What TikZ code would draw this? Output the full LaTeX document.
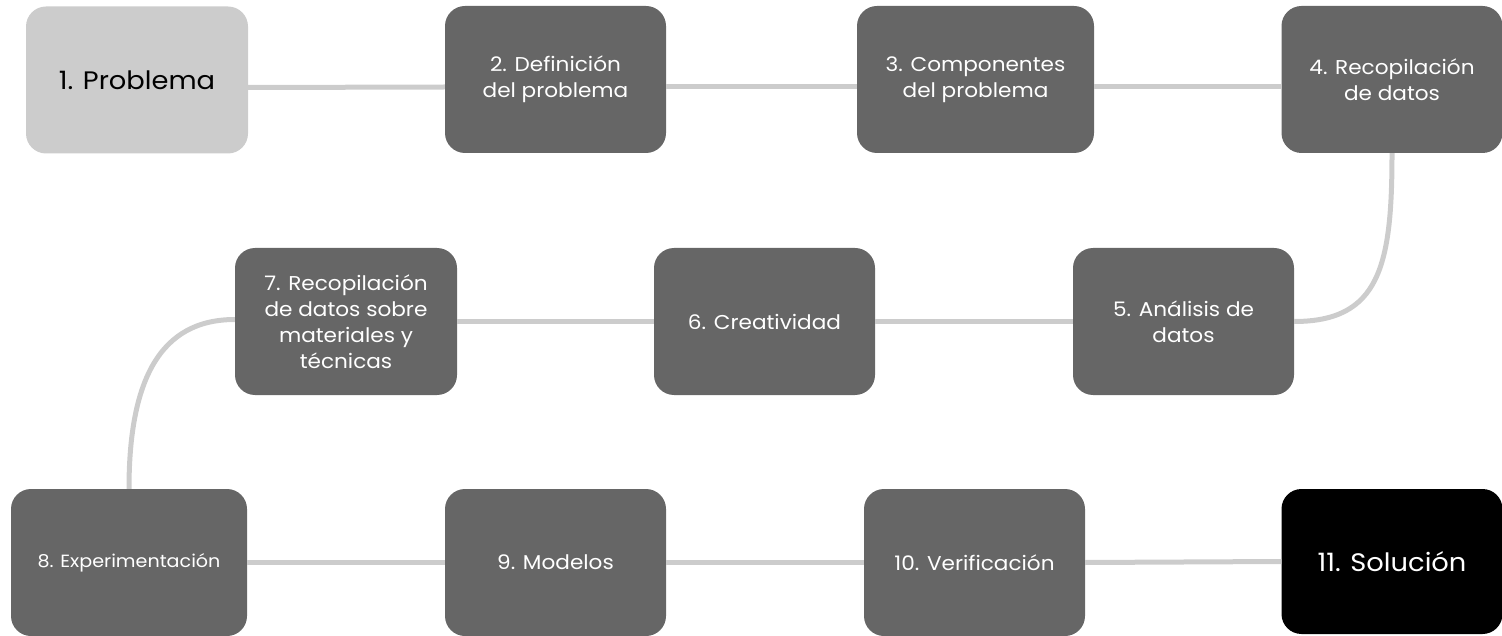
\documentclass[tikz,border=0pt]{standalone}
\usepackage{fontspec}
\setmainfont[FakeStretch=1.08]{Poppins}
\definecolor{boxdark}{HTML}{666666}
\definecolor{boxlight}{HTML}{CCCCCC}
\definecolor{linkgray}{HTML}{CCCCCC}
\tikzset{
  stepbox/.style={rectangle, rounded corners=20pt, fill=boxdark, text=white, align=center,
    inner sep=0pt, minimum height=147pt, font=\fontsize{20}{26}\selectfont},
  link/.style={draw=linkgray, line width=5pt},
}
\begin{document}
\begin{tikzpicture}[x=1pt,y=-1pt]
\useasboundingbox (0,0) rectangle (1502,636);
% row 1
\node[stepbox, fill=boxlight, text=black, minimum width=222pt, font=\fontsize{25.3}{30}\selectfont] (b1) at (137,80) {1. Problema};
\node[stepbox, minimum width=221pt] (b2) at (555.5,79.5) {2. Definición\\del problema};
\node[stepbox, minimum width=237pt] (b3) at (975.5,79.5) {3. Componentes\\del problema};
\node[stepbox, minimum width=221pt] (b4) at (1392,79.5) {4. Recopilación\\de datos};
% row 2
\node[stepbox, minimum width=221pt] (b5) at (1183.5,321.5) {5. Análisis de\\datos};
\node[stepbox, minimum width=221pt] (b6) at (764.5,321.5) {6. Creatividad};
\node[stepbox, minimum width=222pt] (b7) at (346,321.5) {7. Recopilación\\de datos sobre\\materiales y\\técnicas};
% row 3
\node[stepbox, minimum width=236pt, font=\fontsize{17.7}{22}\selectfont] (b8) at (129,562.5) {8. Experimentación};
\node[stepbox, minimum width=221pt] (b9) at (555.5,562.5) {9. Modelos};
\node[stepbox, minimum width=221pt] (b10) at (974.5,562.5) {10. Verificación};
\node[stepbox, fill=black, minimum width=221pt, minimum height=145pt, font=\fontsize{25.3}{30}\selectfont] (b11) at (1392,561.5) {11. Solución};
% connectors
\draw[link] ([yshift=-7.5pt]b1.east) -- ([yshift=-7.5pt]b2.west);
\draw[link] ([yshift=-7.5pt]b2.east) -- ([yshift=-7.5pt]b3.west);
\draw[link] ([yshift=-7.5pt]b3.east) -- ([yshift=-7.5pt]b4.west);
\draw[link] (b4.south) .. controls (1392,265) and (1380,321.5) .. (b5.east);
\draw[link] (b5.west) -- (b6.east);
\draw[link] (b6.west) -- (b7.east);
\draw[link] ([yshift=2pt]b7.west) .. controls (160,319.5) and (129,380) .. (b8.north);
\draw[link] (b8.east) -- (b9.west);
\draw[link] (b9.east) -- (b10.west);
\draw[link] (b10.east) -- (b11.west);
\end{tikzpicture}
\end{document}
